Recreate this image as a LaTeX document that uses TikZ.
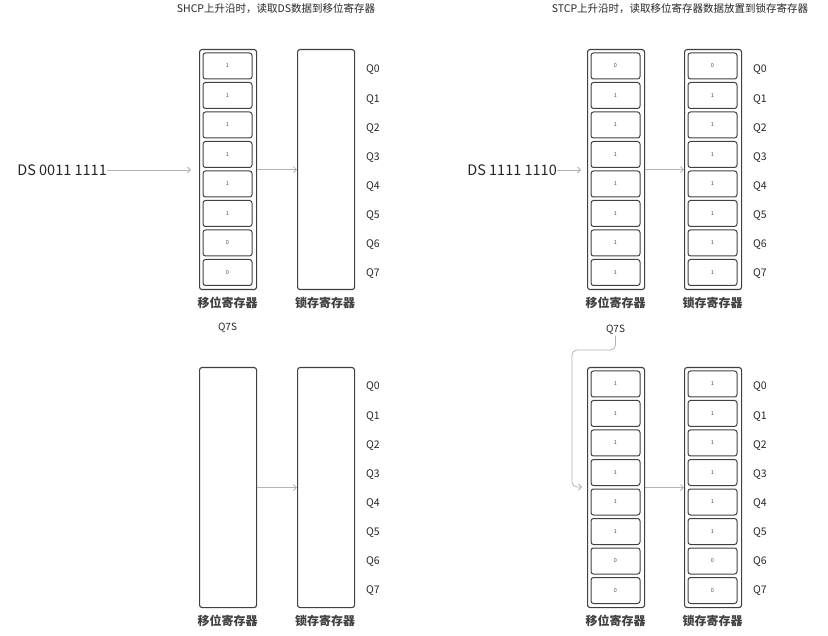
\documentclass[tikz,border=0pt]{standalone}
\usepackage{fontspec}
\setmainfont{Noto Sans CJK SC}
\usetikzlibrary{arrows.meta}
\tikzset{
  regbox/.style={draw=black!75, line width=1.1pt, rounded corners=2.5pt, minimum width=57pt, minimum height=240pt, inner sep=0pt, anchor=north west},
  cellbox/.style={draw=black!75, line width=1pt, rounded corners=2.5pt, minimum width=49pt, minimum height=26pt, inner sep=0pt, font=\fontsize{5.5}{6}\selectfont, text=black!70},
  qlab/.style={anchor=west, font=\fontsize{10.5}{12}\selectfont, text=black!85, inner sep=0pt},
  reglab/.style={font=\bfseries\fontsize{12}{14}\selectfont, text=black!75, inner sep=0pt},
  titlelab/.style={font=\fontsize{10.5}{12}\selectfont, text=black!85, inner sep=0pt},
  dslab/.style={font=\fontsize{14.5}{16}\selectfont, text=black!85, inner sep=0pt},
  q7slab/.style={font=\fontsize{10}{12}\selectfont, text=black!85, inner sep=0pt},
  arr/.style={draw=black!30, line width=0.8pt, -{Straight Barb[length=3pt,width=6pt]}},
}
\begin{document}
\begin{tikzpicture}[x=1pt,y=-1pt]
\useasboundingbox (0,0) rectangle (828,636);
% ---------- titles ----------
\node[titlelab] (t1) at (276,8.5) {SHCP上升沿时，读取DS数据到移位寄存器};
\node[titlelab] (t2) at (680,8.5) {STCP上升沿时，读取移位寄存器数据放置到锁存寄存器};
% ---------- registers ----------
\node[regbox] (sr1) at (199,49) {};
\node[regbox] (lr1) at (297,49) {};
\node[regbox] (sr2) at (587,49) {};
\node[regbox] (lr2) at (684,49) {};
\node[regbox] (sr3) at (199,367) {};
\node[regbox] (lr3) at (297,367) {};
\node[regbox] (sr4) at (587,367) {};
\node[regbox] (lr4) at (684,367) {};
% cells
\foreach \v [count=\i from 0] in {1,1,1,1,1,1,0,0}
  \node[cellbox] (sra\i) at (227.5,{66+29.5*\i}) {\v};
\foreach \v [count=\i from 0] in {0,1,1,1,1,1,1,1}
  \node[cellbox] (srb\i) at (615.5,{66+29.5*\i}) {\v};
\foreach \v [count=\i from 0] in {0,1,1,1,1,1,1,1}
  \node[cellbox] (lrb\i) at (712.5,{66+29.5*\i}) {\v};
\foreach \v [count=\i from 0] in {1,1,1,1,1,1,0,0}
  \node[cellbox] (srd\i) at (615.5,{384+29.5*\i}) {\v};
\foreach \v [count=\i from 0] in {1,1,1,1,1,1,0,0}
  \node[cellbox] (lrd\i) at (712.5,{384+29.5*\i}) {\v};
% Q labels
\foreach \i in {0,...,7} {
  \node[qlab] (qa\i) at (366,{70+29.1*\i}) {Q\i};
  \node[qlab] (qb\i) at (753,{70+29.1*\i}) {Q\i};
  \node[qlab] (qc\i) at (366,{387+29.1*\i}) {Q\i};
  \node[qlab] (qd\i) at (753,{387+29.1*\i}) {Q\i};
}
% register labels
\node[reglab] (la1) at (227.5,303) {移位寄存器};
\node[reglab] (la2) at (325,303) {锁存寄存器};
\node[reglab] (la3) at (615.5,303) {移位寄存器};
\node[reglab] (la4) at (712.5,303) {锁存寄存器};
\node[reglab] (la5) at (227.5,621) {移位寄存器};
\node[reglab] (la6) at (325,621) {锁存寄存器};
\node[reglab] (la7) at (615.5,621) {移位寄存器};
\node[reglab] (la8) at (712.5,621) {锁存寄存器};
% Q7S
\node[q7slab] (q7a) at (227.5,328) {Q7S};
\node[q7slab] (q7b) at (615.5,330) {Q7S};
% DS inputs
\node[dslab, anchor=east] (ds1) at (107,170) {DS 0011 1111};
\node[dslab, anchor=east] (ds2) at (557,170) {DS 1111 1110};
% ---------- connectors ----------
\draw[arr, shorten >=8pt] (ds1.east) -- (ds1.east -| sr1.west);
\draw[arr, shorten >=6pt] (ds2.east) -- (ds2.east -| sr2.west);
\draw[arr] (sr1.east) -- (lr1.west);
\draw[arr] (sr2.east) -- (lr2.west);
\draw[arr] (sr3.east) -- (lr3.west);
\draw[arr] (sr4.east) -- (lr4.west);
\coordinate (k1) at (572,350);
\coordinate (k2) at (582,487);
\draw[arr, rounded corners=5pt] ([yshift=-1pt]q7b.south) |- (k1) |- (k2);
\end{tikzpicture}
\end{document}
